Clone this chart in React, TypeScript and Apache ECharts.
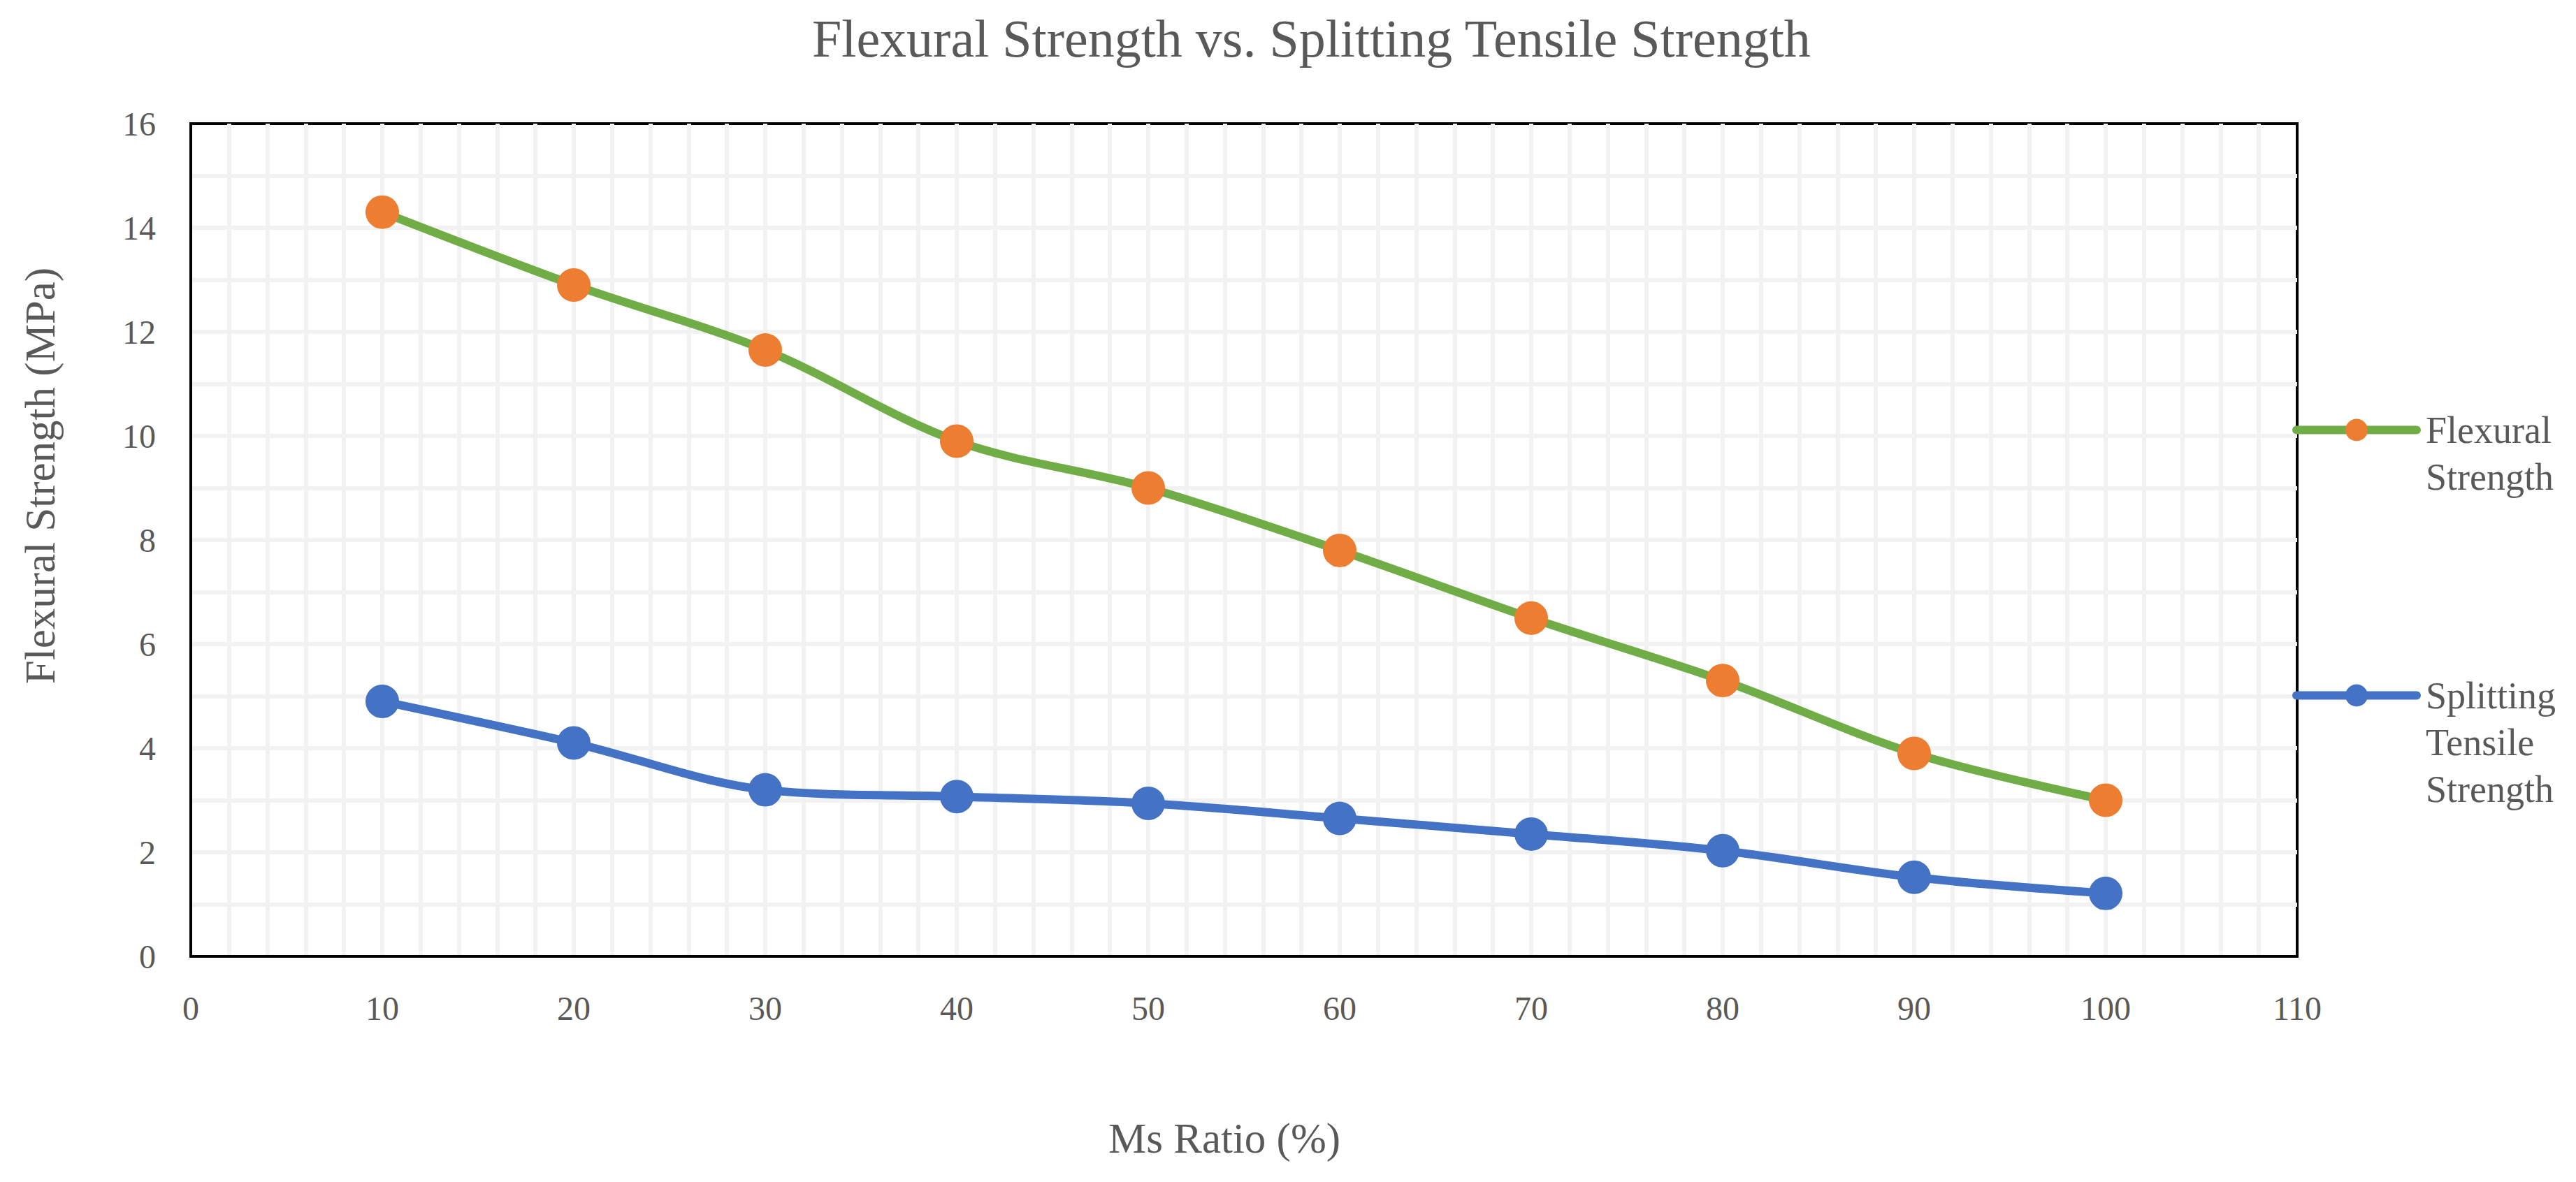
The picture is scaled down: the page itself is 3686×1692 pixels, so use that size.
import React, { useEffect, useRef } from 'react';
import * as echarts from 'echarts';

const msRatio = [10, 20, 30, 40, 50, 60, 70, 80, 90, 100];
const flexuralStrength = [14.3, 12.9, 11.65, 9.9, 9.0, 7.8, 6.5, 5.3, 3.9, 3.0];
const splittingStrength = [4.9, 4.1, 3.2, 3.07, 2.94, 2.65, 2.35, 2.03, 1.52, 1.21];

const legendLabels: Record<string, string> = {
  'Flexural Strength': ' \nFlexural\nStrength',
  'Splitting Tensile Strength': ' \n \nSplitting\nTensile\nStrength'
};

const FONT = '"Liberation Serif", "DejaVu Serif", serif';
const TEXT = '#595959';
const GRID_LINE = { color: '#f2f2f2', width: 6 };

const App: React.FC = () => {
  const chartRef = useRef<HTMLDivElement>(null);

  useEffect(() => {
    if (!chartRef.current) return;
    const chart = echarts.init(chartRef.current, undefined, { renderer: 'svg' });

    const option = {
      animation: false,
      backgroundColor: '#fff',
      title: {
        text: 'Flexural Strength vs. Splitting Tensile Strength',
        left: 1157,
        top: 12,
        textStyle: { fontFamily: FONT, fontSize: 76, fontWeight: 'normal', color: TEXT }
      },
      grid: {
        left: 273,
        top: 177,
        right: 399,
        bottom: 323,
        show: true,
        borderColor: '#000',
        borderWidth: 4,
        backgroundColor: 'transparent'
      },
      legend: {
        orient: 'vertical',
        left: 3275,
        top: 510,
        itemWidth: 172,
        itemHeight: 40,
        itemGap: 112,
        formatter: (name: string) => legendLabels[name] ?? name,
        lineStyle: { width: 12, cap: 'round' },
        textStyle: { fontFamily: FONT, fontSize: 54, lineHeight: 67, color: TEXT, padding: [0, 0, 0, 8] }
      },
      xAxis: {
        type: 'value',
        min: 0,
        max: 110,
        interval: 10,
        axisLine: { show: true, lineStyle: { color: '#000', width: 4 } },
        axisTick: { show: false },
        axisLabel: { margin: 50, fontFamily: FONT, fontSize: 48, color: TEXT },
        splitLine: { show: true, showMinLine: false, showMaxLine: false, lineStyle: GRID_LINE },
        minorTick: { show: false, splitNumber: 5 },
        minorSplitLine: { show: true, lineStyle: GRID_LINE }
      },
      yAxis: {
        type: 'value',
        min: 0,
        max: 16,
        interval: 2,
        axisLine: { show: true, lineStyle: { color: '#000', width: 4 } },
        axisTick: { show: false },
        axisLabel: { margin: 50, fontFamily: FONT, fontSize: 48, color: TEXT },
        splitLine: { show: true, showMinLine: false, showMaxLine: false, lineStyle: GRID_LINE },
        minorTick: { show: false, splitNumber: 2 },
        minorSplitLine: { show: true, lineStyle: GRID_LINE }
      },
      graphic: [
        {
          type: 'text',
          x: 1752,
          y: 1629,
          style: {
            text: 'Ms Ratio (%)',
            align: 'center',
            verticalAlign: 'middle',
            fontFamily: FONT,
            fontSize: 61,
            fill: TEXT
          }
        },
        {
          type: 'text',
          x: 57,
          y: 681,
          rotation: Math.PI / 2,
          style: {
            text: 'Flexural Strength (MPa)',
            align: 'center',
            verticalAlign: 'middle',
            fontFamily: FONT,
            fontSize: 61,
            fill: TEXT
          }
        }
      ],
      series: [
        {
          name: 'Flexural Strength',
          type: 'line',
          data: msRatio.map((x, i) => [x, flexuralStrength[i]]),
          smooth: 0.33,
          symbol: 'circle',
          symbolSize: 48,
          lineStyle: { color: '#70ad47', width: 12, cap: 'round' },
          itemStyle: { color: '#ed7d31' }
        },
        {
          name: 'Splitting Tensile Strength',
          type: 'line',
          data: msRatio.map((x, i) => [x, splittingStrength[i]]),
          smooth: 0.33,
          symbol: 'circle',
          symbolSize: 48,
          lineStyle: { color: '#4472c4', width: 12, cap: 'round' },
          itemStyle: { color: '#4472c4' }
        }
      ]
    };

    chart.setOption(option);

    return () => {
      chart.dispose();
    };
  }, []);

  return (
    <div
      ref={chartRef}
      style={{ position: 'fixed', left: 0, top: 0, width: 3686, height: 1692 }}
    />
  );
};

export default App;
